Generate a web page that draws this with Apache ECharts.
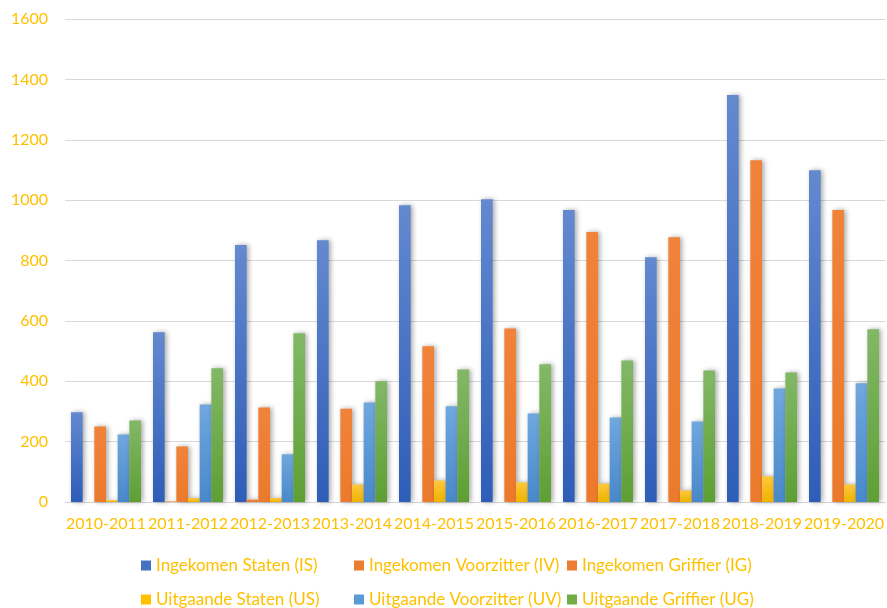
<!DOCTYPE html>
<html>
<head>
<meta charset="utf-8">
<script src="https://cdn.jsdelivr.net/npm/echarts@6/dist/echarts.min.js"></script>
<style>html,body{margin:0;padding:0;background:#fff;}#c{width:887px;height:608px;}</style>
</head>
<body>
<div id="c"></div>
<script>
const categories = ['2010-2011','2011-2012','2012-2013','2013-2014','2014-2015','2015-2016','2016-2017','2017-2018','2018-2019','2019-2020'];
const seriesNames = ['Ingekomen Staten (IS)','Ingekomen Voorzitter (IV)','Ingekomen Griffier (IG)','Uitgaande Staten (US)','Uitgaande Voorzitter (UV)','Uitgaande Griffier (UG)'];
const IS = [297, 562, 851, 867, 983, 1003, 967, 811, 1348, 1099];
const IV = [0, 2, 8, 0, 0, 0, 0, 0, 0, 0];
const IG = [250, 184, 313, 309, 516, 575, 894, 877, 1132, 967];
const US = [6, 13, 13, 58, 71, 65, 61, 38, 85, 58];
const UV = [224, 323, 158, 330, 317, 293, 280, 267, 376, 393];
const UG = [270, 443, 559, 400, 439, 456, 469, 436, 429, 572];
const yTicks = [0, 200, 400, 600, 800, 1000, 1200, 1400, 1600];

const seriesData = [IS, IV, IG, US, UV, UG];
function grad(top, bottom) {
  return new echarts.graphic.LinearGradient(0, 0, 0, 1, [
    {offset: 0, color: top}, {offset: 1, color: bottom}
  ]);
}
const colors = [
  grad('#6389CF', '#2E5DB8'),
  grad('#F0823A', '#EC7A2C'),
  grad('#F0823A', '#EC7A2C'),
  grad('#FFC83C', '#EDB300'),
  grad('#70A7DE', '#4888CA'),
  grad('#82B866', '#5E9F34')
];
const legendIconColors = ['#4472C4', '#ED7D31', '#ED7D31', '#FFC000', '#5B9BD5', '#70AD47'];

const FONT = 'Lato, "Open Sans", sans-serif';
const GOLD = '#FFC000';

const legendPos = [
  {left: 141, top: 557}, {left: 354, top: 557}, {left: 567, top: 557},
  {left: 141, top: 591}, {left: 354, top: 591}, {left: 567, top: 591}
];

const chart = echarts.init(document.getElementById('c'), null, {renderer: 'canvas'});
chart.setOption({
  animation: false,
  backgroundColor: '#ffffff',
  grid: {left: 65, right: 0, top: 19, bottom: 106, containLabel: false},
  legend: seriesNames.map((n, i) => ({
    data: [{name: n, itemStyle: {color: legendIconColors[i]}}],
    left: legendPos[i].left, top: legendPos[i].top,
    icon: 'rect', itemWidth: 10, itemHeight: 10, padding: 0,
    textStyle: {color: GOLD, fontFamily: FONT, fontSize: 17}
  })),
  xAxis: {
    type: 'category',
    data: categories,
    axisLine: {lineStyle: {color: '#D4D4D4', width: 1}},
    axisTick: {show: false},
    axisLabel: {color: GOLD, fontFamily: FONT, fontSize: 16, margin: 14, interval: 0}
  },
  yAxis: {
    type: 'value',
    min: yTicks[0], max: yTicks[yTicks.length - 1], interval: 200,
    axisLine: {show: false},
    axisTick: {show: false},
    axisLabel: {color: GOLD, fontFamily: FONT, fontSize: 16, margin: 17, formatter: v => String(v)},
    splitLine: {lineStyle: {color: '#D9D9D9', width: 1}}
  },
  series: seriesData.map((d, i) => ({
    name: seriesNames[i],
    type: 'bar',
    data: d,
    barGap: '0%',
    barCategoryGap: '14.6%',
    itemStyle: {
      color: colors[i],
      shadowColor: 'rgba(0,0,0,0.35)',
      shadowBlur: 5,
      shadowOffsetX: 2,
      shadowOffsetY: 0
    }
  }))
});
</script>
</body>
</html>
